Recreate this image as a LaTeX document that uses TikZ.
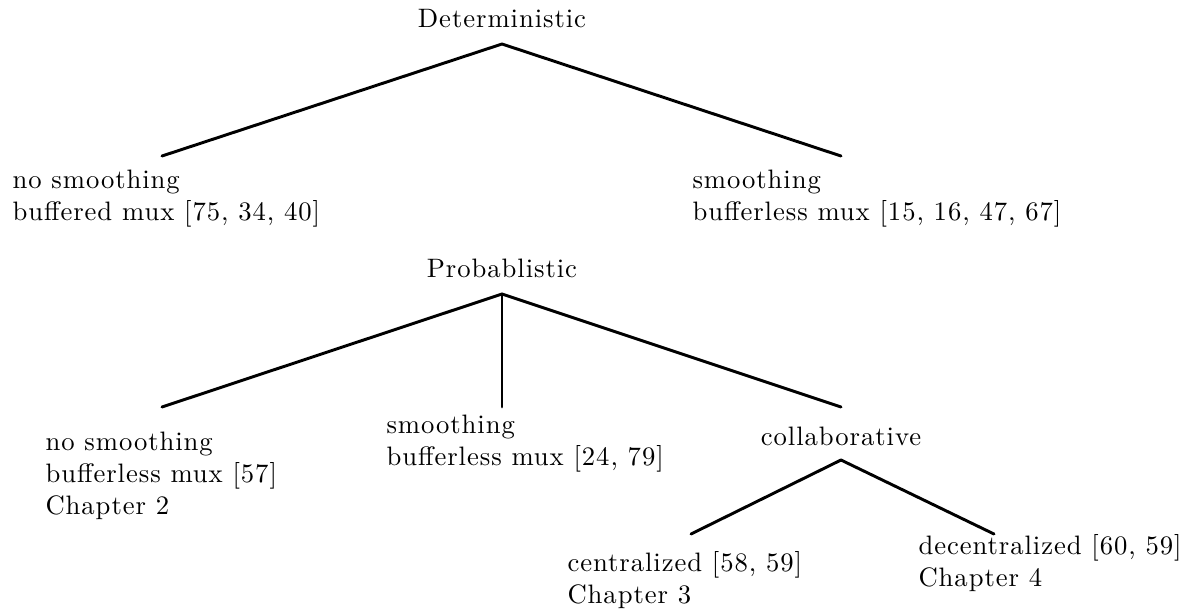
\documentclass[tikz,border=0pt]{standalone}
\usepackage{fontspec}
\setmainfont{Latin Modern Roman}[LetterSpace=3.5]
\usepackage{array}
\newcommand{\labelrows}[1]{\begin{tabular}[t]{@{}l@{}}#1\end{tabular}}
\tikzset{
  branch/.style={line width=1.1pt, line cap=round, line join=round},
  title/.style={inner sep=0pt, anchor=base},
  leaf/.style={inner sep=0pt, anchor=base west},
}
\begin{document}
\begin{tikzpicture}[x=0.375pt, y=-0.375pt]
  \useasboundingbox (0,0) rectangle (1187,611);

  % Deterministic tree
  \node[title] (det) at (502,27) {Deterministic};
  \coordinate (detTop) at (502,44);
  \coordinate (detL) at (162,156);
  \coordinate (detR) at (841,156);
  \node[leaf] (detNo) at (12,188) {\labelrows{no smoothing\\ buffered mux [75, 34, 40]}};
  \node[leaf] (detSm) at (692,188) {\labelrows{smoothing\\ bufferless mux [15, 16, 47, 67]}};
  \draw[branch] (detL) -- (detTop) -- (detR);

  % Probablistic tree
  \node[title] (prob) at (502,277) {Probablistic};
  \coordinate (probTop) at (502,294);
  \coordinate (probL) at (162,407);
  \coordinate (probM) at (502,407);
  \coordinate (probR) at (841,407);
  \node[leaf] (probNo) at (45,450) {\labelrows{no smoothing\\ bufferless mux [57]\\ Chapter 2}};
  \node[leaf] (probSm) at (386,433) {\labelrows{smoothing\\ bufferless mux [24, 79]}};
  \node[title] (collab) at (841,445) {collaborative};
  \draw[branch] (probL) -- (probTop) -- (probR);
  \draw[branch] (probTop) -- (probM);

  % Collaborative subtree
  \coordinate (colTop) at (841,460);
  \coordinate (colL) at (691,534);
  \coordinate (colR) at (994,534);
  \node[leaf] (cent) at (567,571) {\labelrows{centralized [58, 59]\\ Chapter 3}};
  \node[leaf] (decent) at (918,554) {\labelrows{decentralized [60, 59]\\ Chapter 4}};
  \draw[branch] (colL) -- (colTop) -- (colR);
\end{tikzpicture}
\end{document}
